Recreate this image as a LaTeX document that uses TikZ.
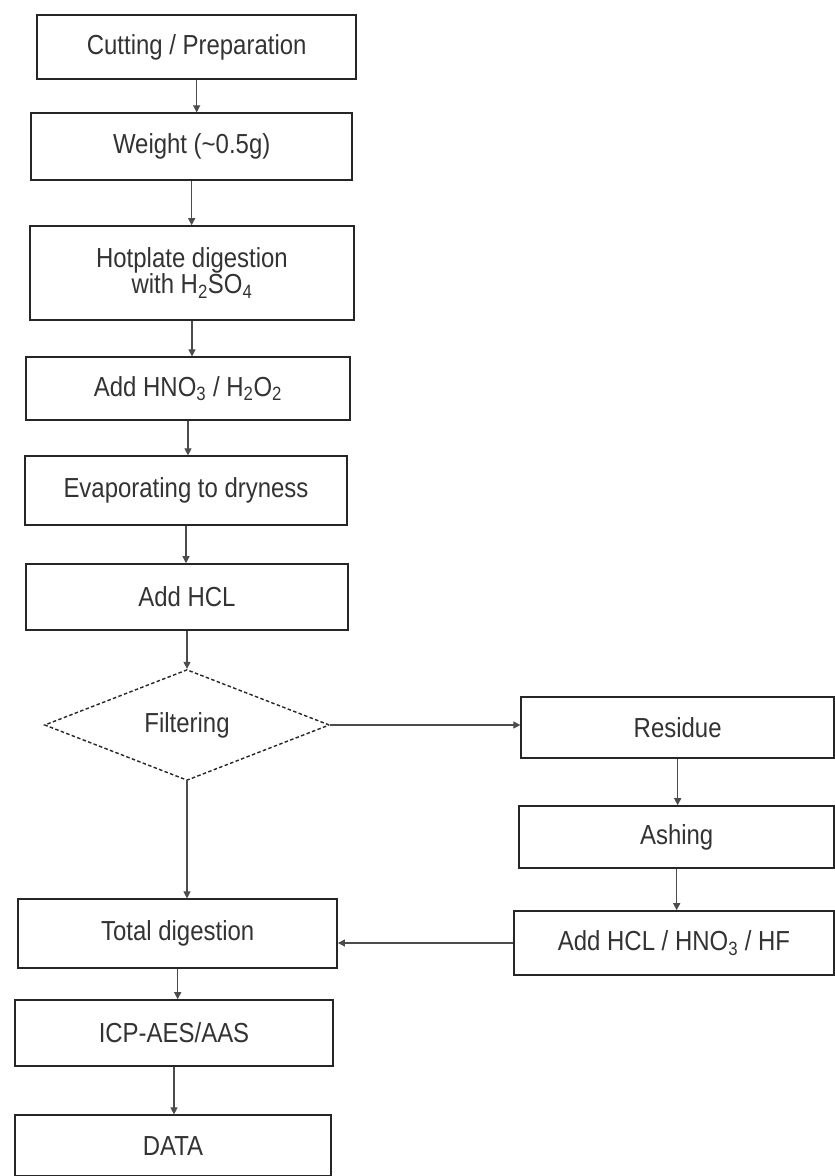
\documentclass[tikz,border=0pt]{standalone}
\usepackage{fontspec}
\setmainfont{Liberation Sans}[FakeStretch=0.87]
\usetikzlibrary{shapes.geometric,arrows.meta}

\tikzset{
  stepbox/.style={draw=black!85, line width=1.3pt, minimum height=1.9cm,
    text=black!80, align=center, font=\fontsize{23.5}{22}\selectfont, inner sep=2pt},
  filterbox/.style={diamond, draw=black!85, line width=1.2pt, densely dashed,
    text=black!80, font=\fontsize{23.5}{22}\selectfont, inner sep=0pt},
  flow/.style={draw=black!70, line width=0.9pt, -{Triangle[width=6pt,length=6pt]}}
}

\begin{document}
\begin{tikzpicture}
      \useasboundingbox (0, 0) rectangle (25.02, -35.28);

      \draw (5.90, -1.41) node [stepbox, minimum width=9.57cm, minimum height=1.92cm] (cut) {Cutting / Preparation};
      \draw (5.75, -4.40) node [stepbox, minimum width=9.63cm, minimum height=2.01cm] (weight) {Weight (\textasciitilde0.5g)};
      \draw (5.76, -8.19) node [stepbox, minimum width=9.72cm, minimum height=2.82cm] (hotplate) {Hotplate digestion\\with H\textsubscript{2}SO\textsubscript{4}};
      \draw (5.64, -11.66) node [stepbox, minimum width=9.72cm, minimum height=1.89cm] (add_hno) {Add HNO\textsubscript{3} / H\textsubscript{2}O\textsubscript{2}};
      \draw (5.58, -14.72) node [stepbox, minimum width=9.66cm, minimum height=2.07cm] (evap) {Evaporating to dryness};
      \draw (5.61, -17.91) node [stepbox, minimum width=9.66cm, minimum height=1.98cm] (add_hcl) {Add HCL};
      \draw [flow] (cut.south) -- (cut.south |- weight.north);
      \draw [flow] (weight.south) -- (weight.south |- hotplate.north);
      \draw [flow] (hotplate.south) -- (hotplate.south |- add_hno.north);
      \draw [flow] (add_hno.south) -- (add_hno.south |- evap.north);
      \draw [flow] (evap.south) -- (evap.south |- add_hcl.north);

      \draw (5.61, -21.75) node [filterbox, minimum width=8.55cm, minimum height=3.09cm] (filter) {Filtering};
      \draw [flow] (add_hcl.south) -- (add_hcl.south |- filter.north);

      % residue branch
      \draw (20.33, -21.83) node [stepbox, minimum width=9.39cm, minimum height=1.83cm] (residue) {Residue};
      \draw (20.30, -25.11) node [stepbox, minimum width=9.45cm, minimum height=1.86cm] (ashing) {Ashing};
      \draw (20.22, -28.29) node [stepbox, minimum width=9.60cm, minimum height=1.92cm] (add_mix) {Add HCL / HNO\textsubscript{3} / HF};
      \draw [flow] (filter.east) -- (filter.east -| residue.west);
      \draw [flow] (residue.south) -- (residue.south |- ashing.north);
      \draw [flow] (ashing.south) -- (ashing.south |- add_mix.north);

      % filtrate branch
      \draw (5.33, -28.01) node [stepbox, minimum width=9.57cm, minimum height=2.07cm] (total) {Total digestion};
      \draw (5.22, -30.99) node [stepbox, minimum width=9.54cm, minimum height=1.98cm] (icp) {ICP-AES/AAS};
      \draw (5.19, -34.37) node [stepbox, minimum width=9.48cm, minimum height=1.83cm] (data) {DATA};
      \draw [flow] (filter.south) -- (filter.south |- total.north);
      \draw [flow] (add_mix.west) -- (add_mix.west -| total.east);
      \draw [flow] (total.south) -- (total.south |- icp.north);
      \draw [flow] (icp.south) -- (icp.south |- data.north);
\end{tikzpicture}
\end{document}
